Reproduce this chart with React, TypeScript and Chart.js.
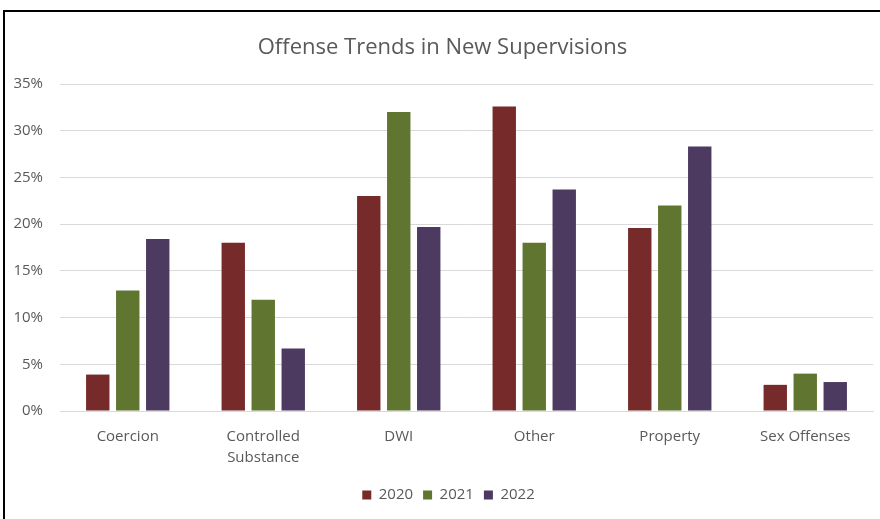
import React, { useEffect, useRef } from "react";
import { Chart, registerables } from "chart.js";

Chart.register(...registerables);

const categories: (string | string[])[] = [
  "Coercion",
  ["Controlled", "Substance"],
  "DWI",
  "Other",
  "Property",
  "Sex Offenses",
];
const seriesNames = ["2020", "2021", "2022"];
const values2020 = [3.9, 18.0, 23.0, 32.6, 19.6, 2.8];
const values2021 = [12.9, 11.9, 32.0, 18.0, 22.0, 4.0];
const values2022 = [18.4, 6.7, 19.7, 23.7, 28.3, 3.1];
const seriesColors = ["#772A2A", "#5F7530", "#4C3A60"];
const yTickMax = 35;
const yTickStep = 5;

const FONT = "'Open Sans', 'Noto Sans', sans-serif";
const TEXT = "#595959";

const legendShift = {
  id: "legendShift",
  afterLayout(chart: any) {
    if (chart.legend) {
      chart.legend.left += 6;
      chart.legend.right += 6;
    }
  },
};

export default function App() {
  const ref = useRef<HTMLCanvasElement | null>(null);

  useEffect(() => {
    if (!ref.current) return;
    const chart = new Chart(ref.current, {
      type: "bar",
      data: {
        labels: categories,
        datasets: [values2020, values2021, values2022].map((d, i) => ({
          label: seriesNames[i],
          data: d,
          backgroundColor: seriesColors[i],
          borderWidth: 0,
          categoryPercentage: 0.664,
          barPercentage: 0.78,
        })),
      },
      options: {
        responsive: false,
        animation: false,
        devicePixelRatio: 1,
        layout: { padding: { left: 12, right: 7, top: 0, bottom: 6.5 } },
        plugins: {
          title: {
            display: true,
            text: "Offense Trends in New Supervisions",
            color: TEXT,
            font: { family: FONT, size: 22, weight: "normal", lineHeight: 1.2 },
            padding: { top: 35, bottom: 22.6 },
          },
          legend: {
            position: "bottom",
            labels: {
              color: TEXT,
              font: { family: FONT, size: 15 },
              boxWidth: 9,
              boxHeight: 9,
              padding: 10,
            },
          },
          tooltip: { enabled: false },
        },
        scales: {
          x: {
            grid: { display: false },
            border: { display: true, color: "#d9d9d9" },
            ticks: {
              color: TEXT,
              font: { family: FONT, size: 15, lineHeight: 1.4 },
              padding: 7.5,
              maxRotation: 0,
              autoSkip: false,
            },
            afterFit: (scale: any) => {
              scale.height = 66.5;
            },
          },
          y: {
            min: 0,
            max: yTickMax,
            grid: { color: "#d9d9d9", lineWidth: 1, drawTicks: false },
            border: { display: false },
            ticks: {
              stepSize: yTickStep,
              color: TEXT,
              font: { family: FONT, size: 15 },
              padding: 17,
              callback: (v: any) => `${v}%`,
            },
            afterFit: (scale: any) => {
              scale.width = 48;
            },
          },
        },
      },
      plugins: [legendShift],
    });
    return () => chart.destroy();
  }, []);

  return (
    <div style={{ position: "fixed", left: 0, top: 0, width: 880, height: 519, overflow: "hidden", background: "#fff" }}>
      <canvas ref={ref} width={880} height={519} style={{ position: "absolute", left: 0, top: 0 }} />
      <div
        style={{
          position: "absolute",
          left: 3,
          top: 10,
          width: 920,
          height: 600,
          borderLeft: "2px solid #000",
          borderTop: "2px solid #000",
          boxSizing: "border-box",
          pointerEvents: "none",
        }}
      />
    </div>
  );
}
